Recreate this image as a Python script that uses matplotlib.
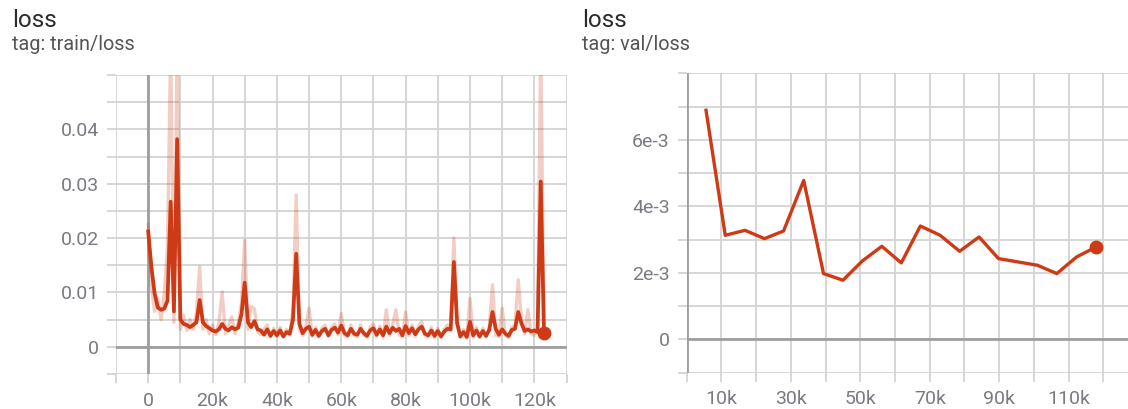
import matplotlib.pyplot as plt
from matplotlib.ticker import FuncFormatter

plt.rcParams['font.family'] = ['Roboto', 'DejaVu Sans']

# train/loss, one value per 1k steps
train_steps = [i * 1000 for i in range(124)]
train_smooth = [
    0.0212, 0.0147, 0.0098, 0.0072, 0.0068, 0.0070, 0.0085, 0.0267, 0.0065, 0.0382,
    0.0050, 0.0042, 0.0040, 0.0036, 0.0040, 0.0045, 0.0086, 0.0045, 0.0038, 0.0034,
    0.0030, 0.0028, 0.0032, 0.0042, 0.0033, 0.0030, 0.0036, 0.0032, 0.0035, 0.0060,
    0.0118, 0.0045, 0.0036, 0.0047, 0.0032, 0.0030, 0.0022, 0.0032, 0.0020, 0.0029,
    0.0021, 0.0030, 0.0019, 0.0027, 0.0024, 0.0050, 0.0171, 0.0042, 0.0025, 0.0033,
    0.0037, 0.0022, 0.0031, 0.0020, 0.0029, 0.0033, 0.0021, 0.0031, 0.0035, 0.0026,
    0.0039, 0.0025, 0.0021, 0.0033, 0.0024, 0.0022, 0.0033, 0.0025, 0.0020, 0.0030,
    0.0034, 0.0022, 0.0032, 0.0021, 0.0037, 0.0025, 0.0035, 0.0029, 0.0033, 0.0021,
    0.0038, 0.0025, 0.0034, 0.0023, 0.0032, 0.0037, 0.0024, 0.0021, 0.0030, 0.0020,
    0.0029, 0.0019, 0.0028, 0.0033, 0.0032, 0.0156, 0.0043, 0.0019, 0.0027, 0.0018,
    0.0046, 0.0021, 0.0030, 0.0019, 0.0029, 0.0020, 0.0031, 0.0064, 0.0033, 0.0022,
    0.0032, 0.0024, 0.0020, 0.0031, 0.0033, 0.0064, 0.0043, 0.0029, 0.0032, 0.0028,
    0.0030, 0.0027, 0.0304, 0.0026,
]
train_raw = [
    0.0225, 0.0110, 0.0065, 0.0090, 0.0050, 0.0098, 0.0184, 0.0560, 0.0045, 0.0560,
    0.0032, 0.0058, 0.0030, 0.0050, 0.0032, 0.0062, 0.0147, 0.0032, 0.0050, 0.0024,
    0.0040, 0.0022, 0.0045, 0.0101, 0.0024, 0.0040, 0.0055, 0.0024, 0.0045, 0.0080,
    0.0196, 0.0032, 0.0074, 0.0070, 0.0028, 0.0022, 0.0032, 0.0040, 0.0018, 0.0034,
    0.0019, 0.0036, 0.0018, 0.0032, 0.0021, 0.0070, 0.0279, 0.0032, 0.0021, 0.0038,
    0.0071, 0.0019, 0.0036, 0.0018, 0.0034, 0.0040, 0.0019, 0.0036, 0.0042, 0.0022,
    0.0061, 0.0021, 0.0018, 0.0040, 0.0021, 0.0019, 0.0040, 0.0021, 0.0018, 0.0036,
    0.0042, 0.0019, 0.0038, 0.0018, 0.0068, 0.0021, 0.0042, 0.0068, 0.0022, 0.0018,
    0.0064, 0.0021, 0.0040, 0.0019, 0.0038, 0.0046, 0.0021, 0.0018, 0.0036, 0.0017,
    0.0034, 0.0017, 0.0032, 0.0040, 0.0030, 0.0200, 0.0050, 0.0017, 0.0032, 0.0016,
    0.0089, 0.0018, 0.0036, 0.0017, 0.0034, 0.0018, 0.0036, 0.0114, 0.0021, 0.0019,
    0.0071, 0.0021, 0.0017, 0.0036, 0.0040, 0.0123, 0.0050, 0.0024, 0.0068, 0.0024,
    0.0021, 0.0035, 0.0560, 0.0026,
]

# val/loss
val_steps = [5560, 11100, 16800, 22400, 27900, 33700, 39400, 45000, 50600, 56200, 61800,
             67300, 73000, 78600, 84200, 89800, 95400, 101000, 106600, 112300, 117900]
val_loss = [6.89e-3, 3.13e-3, 3.28e-3, 3.03e-3, 3.26e-3, 4.78e-3, 1.98e-3, 1.78e-3, 2.36e-3,
            2.80e-3, 2.30e-3, 3.41e-3, 3.13e-3, 2.65e-3, 3.08e-3, 2.43e-3, 2.33e-3, 2.23e-3,
            1.98e-3, 2.48e-3, 2.78e-3]

line_color = '#cf3a16'
grid_color = '#d3d3d3'
zero_color = '#9e9e9e'
label_color = '#7a7a84'

W, H = 1128, 409
fig = plt.figure(figsize=(W / 100, H / 100), dpi=100)
ax1 = fig.add_axes([116 / W, 1 - 373.9 / H, 450.5 / W, 298.9 / H])
ax2 = fig.add_axes([686.7 / W, 1 - 372.7 / H, 441.3 / W, 299.4 / H])


def style(ax, xt, yt, xfmt, yfmt):
    ax.set_xticks(xt)
    ax.set_yticks(yt)
    ax.xaxis.set_major_formatter(FuncFormatter(xfmt))
    ax.yaxis.set_major_formatter(FuncFormatter(yfmt))
    ax.grid(True, color=grid_color, lw=1.3, zorder=0)
    ax.set_axisbelow(True)
    for s in ax.spines.values():
        s.set_visible(False)
    ax.tick_params(length=6.8, width=1.3, color=grid_color, labelcolor=label_color,
                   labelsize=14)
    ax.tick_params(axis='y', pad=5.5)
    ax.tick_params(axis='x', pad=6)
    ax.axhline(0, color=zero_color, lw=2, zorder=1)
    ax.axvline(0, color=zero_color, lw=2, zorder=1)


def kfmt(labels):
    def f(v, pos):
        k = int(round(v / 1000))
        if k in labels:
            return '0' if k == 0 else f'{k}k'
        return ''
    return f


def train_y(v, pos):
    r = round(v, 4)
    if r in (0.0, 0.01, 0.02, 0.03, 0.04):
        return '0' if r == 0 else f'{r:.2f}'
    return ''


def val_y(v, pos):
    r = int(round(v * 1000))
    if r in (0, 2, 4, 6) and abs(v * 1000 - r) < 1e-6:
        return '0' if r == 0 else f'{r}e-3'
    return ''


# left: train
style(ax1, [i * 10000 for i in range(-1, 14)], [i * 0.005 for i in range(-1, 11)],
      kfmt({0, 20, 40, 60, 80, 100, 120}), train_y)
ax1.set_xlim(-10000, 130000)
ax1.set_ylim(-0.005, 0.05)
ax1.plot(train_steps, train_raw, color=line_color, alpha=0.25, lw=2.4, zorder=2)
ax1.plot(train_steps, train_smooth, color=line_color, lw=2.7, zorder=3)
ax1.plot(train_steps[-1], train_smooth[-1], 'o', color=line_color, ms=9, zorder=4,
         clip_on=False)

# right: val
style(ax2, [i * 10000 for i in range(0, 13)], [i * 0.001 for i in range(-1, 9)],
      kfmt({10, 30, 50, 70, 90, 110}), val_y)
ax2.set_xlim(0, 127100)
ax2.set_ylim(-0.001, 0.008)
ax2.plot(val_steps, val_loss, color=line_color, lw=2.4, zorder=3)
ax2.plot(val_steps[-1], val_loss[-1], 'o', color=line_color, ms=9, zorder=4, clip_on=False)

# titles
fig.text(12 / W, 1 - 27 / H, 'loss', fontsize=17.5, color='#2b2b2b', va='baseline')
fig.text(12 / W, 1 - 50 / H, 'tag: train/loss', fontsize=14.3, color='#555555', va='baseline')
fig.text(582 / W, 1 - 27 / H, 'loss', fontsize=17.5, color='#2b2b2b', va='baseline')
fig.text(582 / W, 1 - 50 / H, 'tag: val/loss', fontsize=14.3, color='#555555', va='baseline')

fig.savefig('out.png', dpi=100)
